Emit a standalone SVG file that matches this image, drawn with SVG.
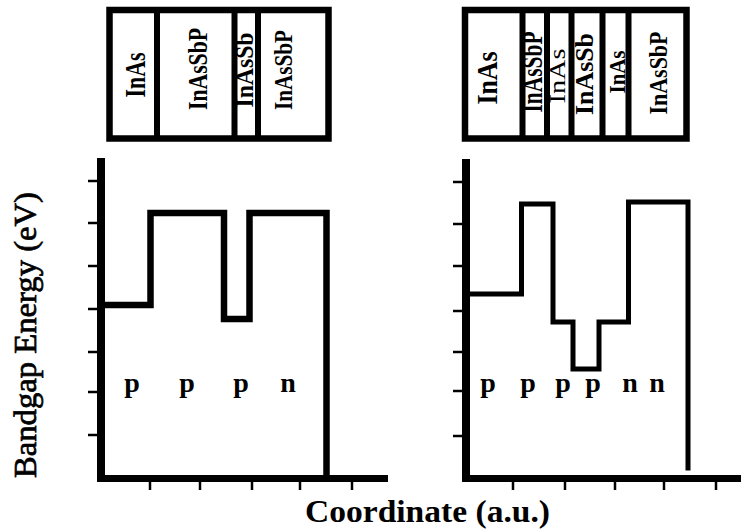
<svg xmlns="http://www.w3.org/2000/svg" width="741" height="529" viewBox="0 0 741 529">
<style>
.box{fill:#fff;stroke:#000;stroke-width:6.5}
.div{stroke:#000;stroke-width:6}
.lbl{font-family:"Liberation Serif","Times New Roman",serif;font-weight:bold;font-size:28px;fill:#000;text-anchor:middle}
.dop{font-family:"Liberation Serif","Times New Roman",serif;font-weight:bold;font-size:28px;fill:#000;text-anchor:middle}
.ttl{font-family:"Liberation Serif","Times New Roman",serif;font-weight:bold;font-size:31px;fill:#000;text-anchor:middle}
.axis{stroke:#000;fill:none}
.tick{stroke:#000;stroke-width:2.5}
.curve{fill:none;stroke:#000;stroke-linejoin:miter;stroke-linecap:square}
</style>
<rect width="741" height="529" fill="#fff"/>

<g id="layers-left">
<rect class="box" x="109.5" y="10" width="219" height="128.5"/>
<line class="div" x1="157" y1="10" x2="157" y2="138.5"/>
<line class="div" x1="234.5" y1="10" x2="234.5" y2="138.5"/>
<line class="div" x1="258" y1="10" x2="258" y2="138.5"/>
<text class="lbl" transform="translate(145,75) rotate(-90)" textLength="45" lengthAdjust="spacingAndGlyphs" style="font-size:30px">InAs</text>
<text class="lbl" transform="translate(207,69) rotate(-90)" textLength="82" lengthAdjust="spacingAndGlyphs" style="font-size:27px">InAsSbP</text>
<text class="lbl" transform="translate(253,70) rotate(-90)" textLength="75" lengthAdjust="spacingAndGlyphs" style="font-size:26px">InAsSb</text>
<text class="lbl" transform="translate(292,70) rotate(-90)" textLength="80" lengthAdjust="spacingAndGlyphs" style="font-size:26px">InAsSbP</text>
</g>

<g id="layers-right">
<rect class="box" x="465" y="10" width="221.5" height="128.5"/>
<line class="div" x1="522.5" y1="10" x2="522.5" y2="138.5"/>
<line class="div" x1="547" y1="10" x2="547" y2="138.5"/>
<line class="div" x1="571.5" y1="10" x2="571.5" y2="138.5"/>
<line class="div" x1="602.5" y1="10" x2="602.5" y2="138.5"/>
<line class="div" x1="628.5" y1="10" x2="628.5" y2="138.5"/>
<text class="lbl" transform="translate(497,78) rotate(-90)" textLength="53" lengthAdjust="spacingAndGlyphs" style="font-size:29px">InAs</text>
<text class="lbl" transform="translate(542,72) rotate(-90)" textLength="81" lengthAdjust="spacingAndGlyphs" style="font-size:29px">InAsSbP</text>
<text class="lbl" transform="translate(565,76) rotate(-90)" textLength="55" lengthAdjust="spacingAndGlyphs" style="font-size:23px;font-weight:normal">InAs</text>
<text class="lbl" transform="translate(593,74) rotate(-90)" textLength="82" lengthAdjust="spacingAndGlyphs" style="font-size:25px">InAsSb</text>
<text class="lbl" transform="translate(625,72) rotate(-90)" textLength="43" lengthAdjust="spacingAndGlyphs" style="font-size:23px">InAs</text>
<text class="lbl" transform="translate(667,73) rotate(-90)" textLength="83" lengthAdjust="spacingAndGlyphs" style="font-size:26px">InAsSbP</text>
</g>

<g id="axes-left">
<line class="axis" x1="101" y1="158" x2="101" y2="482" stroke-width="8"/>
<line class="axis" x1="97" y1="478.5" x2="388" y2="478.5" stroke-width="7"/>
<line class="tick" x1="88" y1="181" x2="98" y2="181"/>
<line class="tick" x1="88" y1="223" x2="98" y2="223"/>
<line class="tick" x1="88" y1="266" x2="98" y2="266"/>
<line class="tick" x1="88" y1="309" x2="98" y2="309"/>
<line class="tick" x1="88" y1="352" x2="98" y2="352"/>
<line class="tick" x1="88" y1="392" x2="98" y2="392"/>
<line class="tick" x1="88" y1="435" x2="98" y2="435"/>
<line class="tick" x1="150" y1="481" x2="150" y2="490"/>
<line class="tick" x1="200" y1="481" x2="200" y2="490"/>
<line class="tick" x1="252" y1="481" x2="252" y2="490"/>
<line class="tick" x1="300" y1="481" x2="300" y2="490"/>
<line class="tick" x1="352" y1="481" x2="352" y2="490"/>
</g>

<g id="axes-right">
<line class="axis" x1="466" y1="159" x2="466" y2="482" stroke-width="8"/>
<line class="axis" x1="462" y1="478.5" x2="741" y2="478.5" stroke-width="7"/>
<line class="tick" x1="453" y1="182" x2="463" y2="182"/>
<line class="tick" x1="453" y1="224" x2="463" y2="224"/>
<line class="tick" x1="453" y1="266" x2="463" y2="266"/>
<line class="tick" x1="453" y1="311" x2="463" y2="311"/>
<line class="tick" x1="453" y1="352" x2="463" y2="352"/>
<line class="tick" x1="453" y1="391" x2="463" y2="391"/>
<line class="tick" x1="453" y1="436" x2="463" y2="436"/>
<line class="tick" x1="513" y1="481" x2="513" y2="490"/>
<line class="tick" x1="565" y1="481" x2="565" y2="490"/>
<line class="tick" x1="615" y1="481" x2="615" y2="490"/>
<line class="tick" x1="664" y1="481" x2="664" y2="490"/>
<line class="tick" x1="716" y1="481" x2="716" y2="490"/>
</g>

<g id="connectors">
<path class="curve" stroke-width="6.5" d="M101,305 H150.5 V213 H224 V319 H249.5 V213 H326.5 V478"/>
<path class="curve" stroke-width="5" d="M466,294 H521.5 V204 H553 V322 H573 V369 H599 V322 H628.5 V202 H688 V468"/>
</g>

<g id="doping-left">
<text class="dop" x="132" y="392">p</text>
<text class="dop" x="187" y="392">p</text>
<text class="dop" x="241" y="392">p</text>
<text class="dop" x="288" y="392">n</text>
</g>
<g id="doping-right">
<text class="dop" x="488" y="392">p</text>
<text class="dop" x="528" y="392">p</text>
<text class="dop" x="563" y="392">p</text>
<text class="dop" x="593" y="392">p</text>
<text class="dop" x="630" y="392">n</text>
<text class="dop" x="657" y="392">n</text>
</g>

<g id="titles">
<text class="ttl" x="427.5" y="522" textLength="245" lengthAdjust="spacingAndGlyphs">Coordinate (a.u.)</text>
<text class="ttl" transform="translate(36,335) rotate(-90)" textLength="286" lengthAdjust="spacingAndGlyphs" style="font-weight:normal;font-size:31px;stroke:#000;stroke-width:0.7">Bandgap Energy (eV)</text>
</g>
</svg>
